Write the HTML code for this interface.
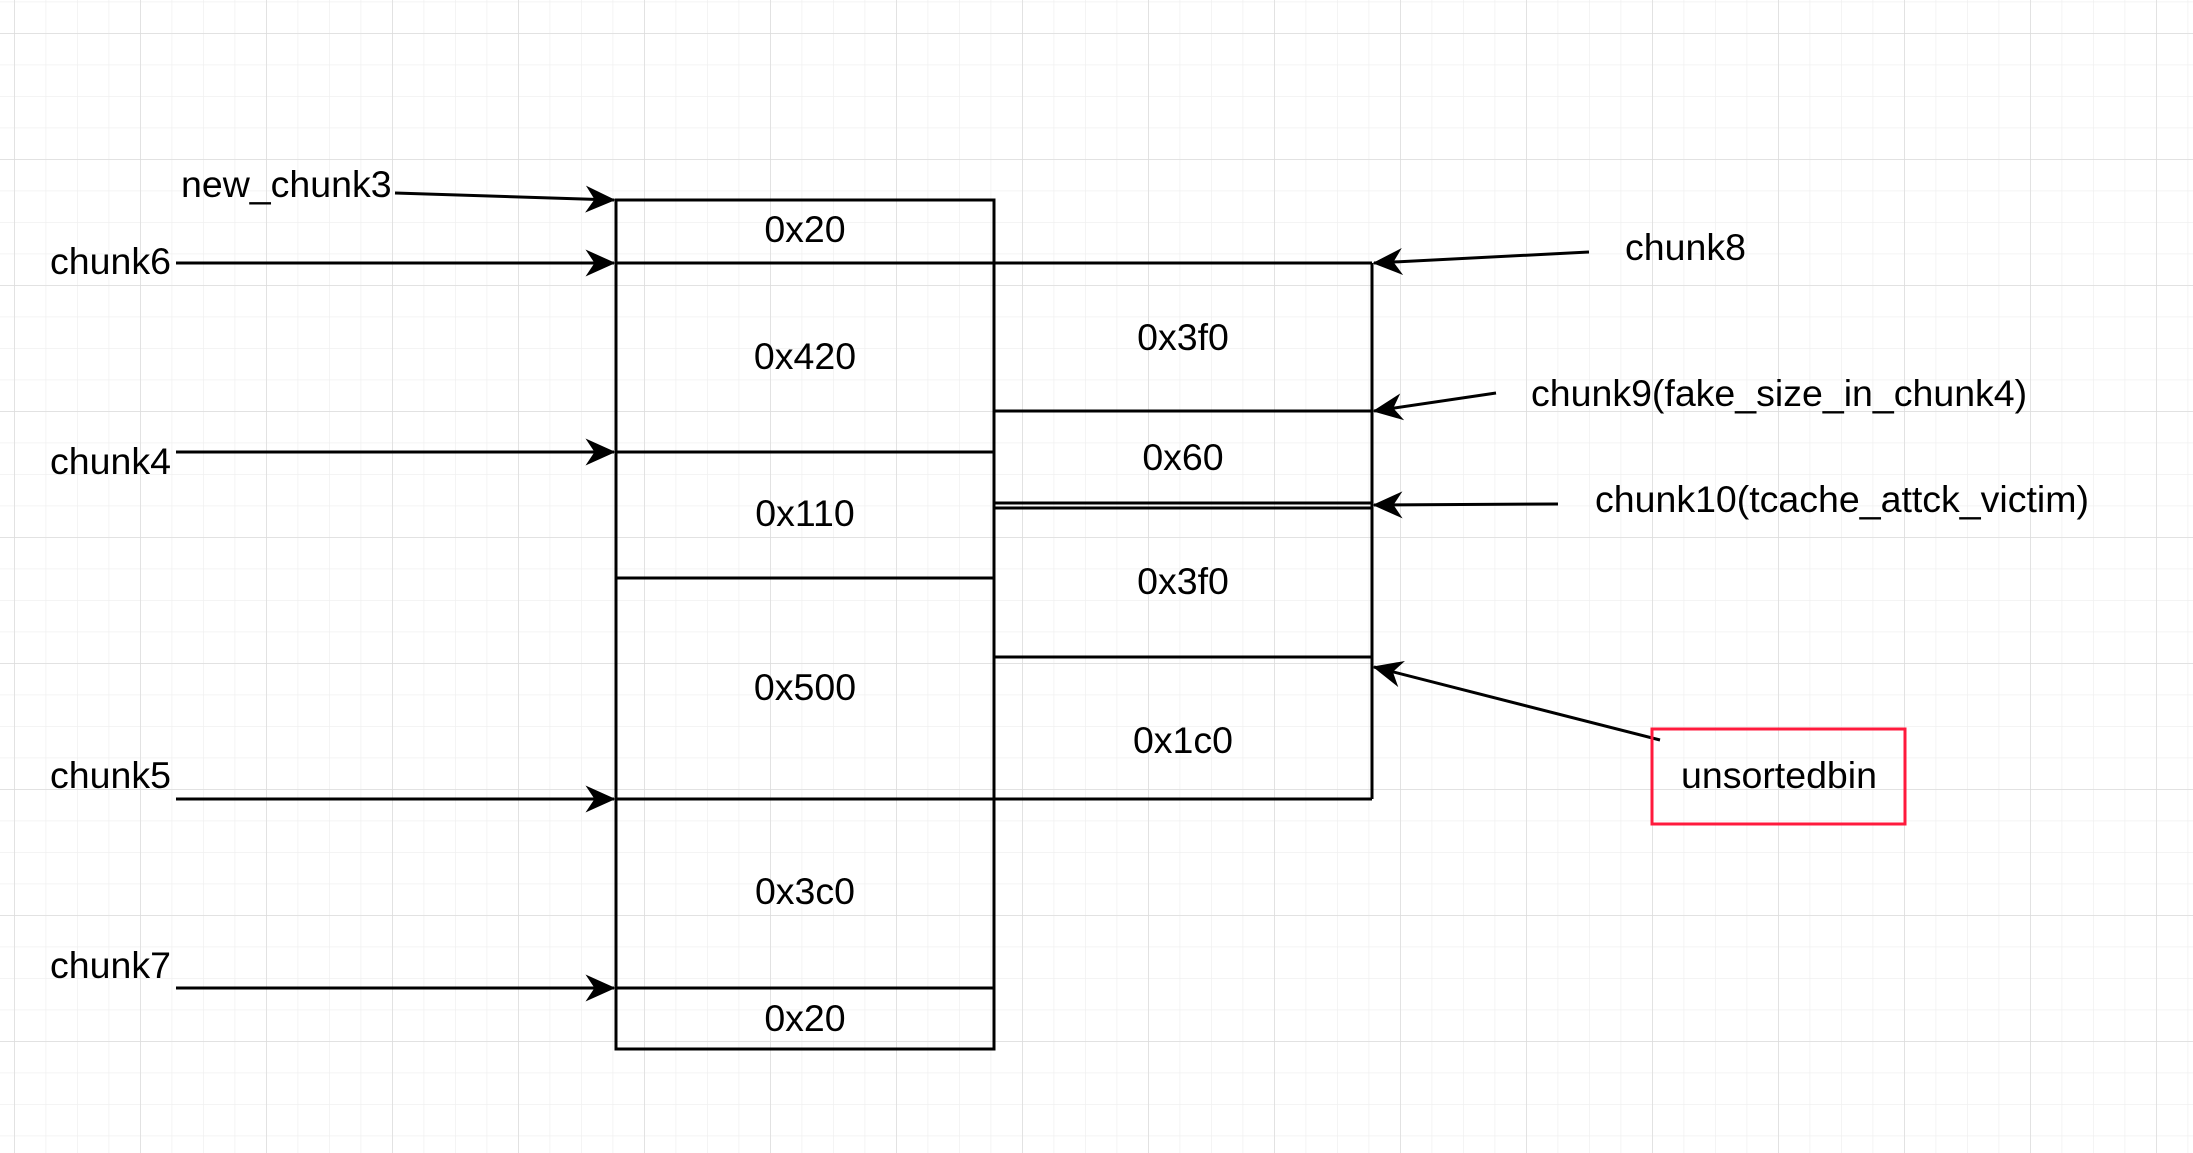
<!DOCTYPE html>
<html><head><meta charset="utf-8"><style>html,body{margin:0;padding:0;background:#fff}svg{display:block}</style></head>
<body>
<svg width="2193" height="1153" viewBox="0 0 2193 1153" xmlns="http://www.w3.org/2000/svg" font-family="Liberation Sans, Arial, sans-serif" font-size="37.5">
<defs>
<pattern id="minor" x="14" y="33" width="31.5" height="31.5" patternUnits="userSpaceOnUse">
<path d="M0 0H31.5M0 0V31.5" stroke="#f0f0f0" stroke-width="1.5" fill="none"/>
</pattern>
<pattern id="major" x="14" y="33" width="126" height="126" patternUnits="userSpaceOnUse">
<path d="M0 0H126M0 0V126" stroke="#dcdcdc" stroke-width="1.5" fill="none"/>
</pattern>
<marker id="ar" viewBox="0 0 20 20" refX="19" refY="10" markerWidth="30" markerHeight="30" markerUnits="userSpaceOnUse" orient="auto">
<path d="M0 1 L20 10 L0 19 L6 10 Z" fill="#000"/>
</marker>
</defs>
<rect width="2193" height="1153" fill="#fff"/>
<rect width="2193" height="1153" fill="url(#minor)"/>
<rect width="2193" height="1153" fill="url(#major)"/>

<g stroke="#000" stroke-width="3" fill="none">
<rect x="616" y="200" width="378" height="849"/>
<line x1="616" y1="263" x2="1372" y2="263"/>
<line x1="616" y1="452" x2="994" y2="452"/>
<line x1="616" y1="578" x2="994" y2="578"/>
<line x1="616" y1="799" x2="1372" y2="799"/>
<line x1="616" y1="988" x2="994" y2="988"/>
<line x1="1372" y1="263" x2="1372" y2="799"/>
<line x1="994" y1="411" x2="1372" y2="411"/>
<line x1="994" y1="503" x2="1372" y2="503"/>
<line x1="994" y1="508" x2="1372" y2="508"/>
<line x1="994" y1="657" x2="1372" y2="657"/>
</g>

<g stroke="#000" stroke-width="3" fill="none" marker-end="url(#ar)">
<line x1="395" y1="193" x2="614" y2="200"/>
<line x1="176" y1="263" x2="614" y2="263"/>
<line x1="176" y1="452" x2="614" y2="452"/>
<line x1="176" y1="799" x2="614" y2="799"/>
<line x1="176" y1="988" x2="614" y2="988"/>
<line x1="1589" y1="252" x2="1374" y2="263"/>
<line x1="1496" y1="393" x2="1374" y2="411"/>
<line x1="1558" y1="504" x2="1374" y2="505"/>
<line x1="1660" y1="740" x2="1374" y2="667"/>
</g>

<rect x="1652" y="729" width="253" height="95" fill="none" stroke="#ff1a3c" stroke-width="3"/>

<g fill="#000">
<text x="181" y="197">new_chunk3</text>
<text x="50" y="274">chunk6</text>
<text x="50" y="474">chunk4</text>
<text x="50" y="788">chunk5</text>
<text x="50" y="978">chunk7</text>
<text x="1625" y="260">chunk8</text>
<text x="1531" y="406">chunk9(fake_size_in_chunk4)</text>
<text x="1595" y="512">chunk10(tcache_attck_victim)</text>
<text x="1681" y="788">unsortedbin</text>
</g>
<g fill="#000" text-anchor="middle" dominant-baseline="central">
<text x="805" y="229">0x20</text>
<text x="805" y="356">0x420</text>
<text x="805" y="513">0x110</text>
<text x="805" y="687">0x500</text>
<text x="805" y="891">0x3c0</text>
<text x="805" y="1018">0x20</text>
<text x="1183" y="337">0x3f0</text>
<text x="1183" y="457">0x60</text>
<text x="1183" y="581">0x3f0</text>
<text x="1183" y="740">0x1c0</text>
</g>
</svg>
</body></html>
